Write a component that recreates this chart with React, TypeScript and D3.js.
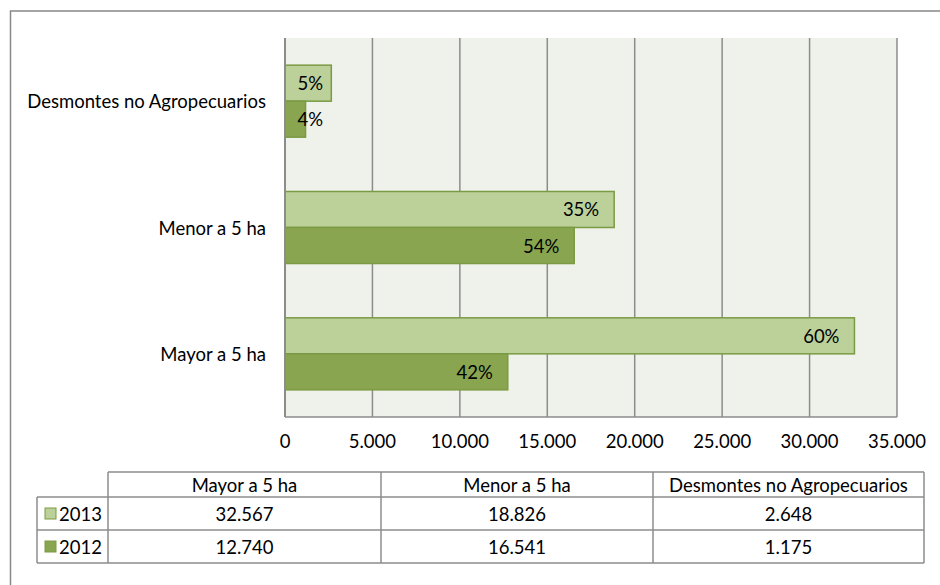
import React from "react";
import * as d3 from "d3";

const categories = ["Mayor a 5 ha", "Menor a 5 ha", "Desmontes no Agropecuarios"];
const seriesNames = ["2013", "2012"];
const values2013 = [32567, 18826, 2648];
const values2012 = [12740, 16541, 1175];
const tickValues = [0, 5000, 10000, 15000, 20000, 25000, 30000, 35000];

const FONT = "Lato, 'Open Sans', sans-serif";
const FS = 18.5;
const C_LIGHT = "#BCD09A";
const C_DARK = "#8AA550";
const C_BORDER = "#7A9A43";
const GRID = "#8C8C8C";

const fmt = (v: number) => d3.format(",")(v).replace(/,/g, ".");

export default function App() {
  const W = 940, H = 585;
  const x = d3.scaleLinear().domain([0, 35000]).range([285, 897]);
  const displayOrder = [...categories].reverse();
  const y = d3.scaleBand().domain(displayOrder).range([38, 417]).paddingInner(0).paddingOuter(0);
  const groupH = y.bandwidth() * (72 / 126.3);
  const barH = groupH / 2;
  const series = [
    { name: seriesNames[0], values: values2013, color: C_LIGHT },
    { name: seriesNames[1], values: values2012, color: C_DARK },
  ];
  const totals = series.map((s) => d3.sum(s.values));

  const colX = [37, 108, 381, 653, 924];
  const rowY = [472, 497, 530, 563];

  return (
    <svg width={W} height={H} style={{ position: "absolute", left: 0, top: 0, background: "#fff" }} fontFamily={FONT}>
      <rect x={10.5} y={11} width={W} height={H} fill="none" stroke="#888" strokeWidth={1.5} />
      <rect x={285} y={38} width={612} height={379} fill="#EFF2EA" />
      {tickValues.map((t) => (
        <line key={t} x1={x(t)} x2={x(t)} y1={38} y2={417} stroke={GRID} strokeWidth={1.5} />
      ))}
      <line x1={285} x2={897} y1={417} y2={417} stroke={GRID} strokeWidth={1.5} />
      {tickValues.map((t) => (
        <text key={t} x={x(t)} y={441} textAnchor="middle" dominantBaseline="central" fontSize={FS} fill="#000">
          {fmt(t)}
        </text>
      ))}
      {categories.map((c, ci) => {
        const y0 = y(c)! + (y.bandwidth() - groupH) / 2;
        return (
          <g key={c}>
            <text x={266} y={y(c)! + y.bandwidth() / 2} textAnchor="end" dominantBaseline="central" fontSize={FS} fill="#000">
              {c}
            </text>
            {series.map((s, si) => {
              const v = s.values[ci];
              const by = y0 + si * barH;
              const xe = x(v);
              const pct = Math.round((v / totals[si]) * 100) + "%";
              const lx = Math.max(xe - 15, x(0) + 38);
              return (
                <g key={s.name}>
                  <rect x={x(0)} y={by} width={xe - x(0)} height={barH} fill={s.color} stroke={C_BORDER} strokeWidth={1.5} />
                  <text x={lx} y={by + barH / 2} textAnchor="end" dominantBaseline="central" fontSize={FS} fill="#000">
                    {pct}
                  </text>
                </g>
              );
            })}
          </g>
        );
      })}
      <line x1={285} x2={285} y1={38} y2={417} stroke={GRID} strokeWidth={2} />
      {/* data table */}
      <g stroke="#8C8C8C" strokeWidth={1.5} fill="none">
        <line x1={colX[1]} x2={colX[4]} y1={rowY[0]} y2={rowY[0]} />
        <line x1={colX[0]} x2={colX[4]} y1={rowY[1]} y2={rowY[1]} />
        <line x1={colX[0]} x2={colX[4]} y1={rowY[2]} y2={rowY[2]} />
        <line x1={colX[0]} x2={colX[4]} y1={rowY[3]} y2={rowY[3]} />
        <line x1={colX[0]} x2={colX[0]} y1={rowY[1]} y2={rowY[3]} />
        {colX.slice(1).map((cx) => (
          <line key={cx} x1={cx} x2={cx} y1={rowY[0]} y2={rowY[3]} />
        ))}
      </g>
      {categories.map((c, ci) => (
        <text key={c} x={(colX[ci + 1] + colX[ci + 2]) / 2} y={(rowY[0] + rowY[1]) / 2} textAnchor="middle" dominantBaseline="central" fontSize={FS} fill="#000">
          {c}
        </text>
      ))}
      {series.map((s, si) => {
        const cy = (rowY[si + 1] + rowY[si + 2]) / 2;
        return (
          <g key={s.name}>
            <rect x={45} y={cy - 5.5} width={11} height={11} fill={s.color} stroke={C_BORDER} strokeWidth={1} />
            <text x={59} y={cy} dominantBaseline="central" fontSize={FS} fill="#000">{s.name}</text>
            {s.values.map((v, ci) => (
              <text key={ci} x={(colX[ci + 1] + colX[ci + 2]) / 2} y={cy} textAnchor="middle" dominantBaseline="central" fontSize={FS} fill="#000">
                {fmt(v)}
              </text>
            ))}
          </g>
        );
      })}
    </svg>
  );
}
